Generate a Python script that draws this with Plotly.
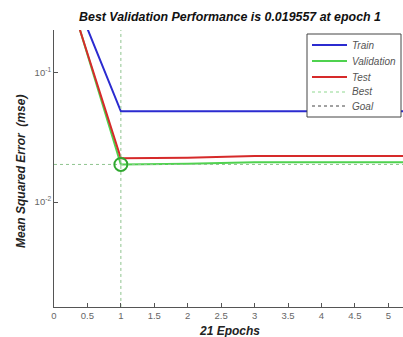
import plotly.graph_objects as go

epochs = [0, 1, 2, 3, 4, 5, 6]
train_mse = [0.95, 0.0503, 0.0503, 0.0503, 0.0503, 0.0503, 0.0503]
val_mse = [0.98, 0.019557, 0.0198, 0.0203, 0.0203, 0.0203, 0.0203]
test_mse = [0.91, 0.0218, 0.0220, 0.0227, 0.0227, 0.0227, 0.0227]
best_epoch = 1
best_perf = 0.019557
x_ticks = [0, 0.5, 1, 1.5, 2, 2.5, 3, 3.5, 4, 4.5, 5]
x_tick_labels = ["0", "0.5", "1", "1.5", "2", "2.5", "3", "3.5", "4", "4.5", "5"]
legend_names = ["Train", "Validation", "Test", "Best", "Goal"]
legend_colors = ["#2b2bd0", "#4fd24f", "#d62a2a", "#8fd88f", "#444444"]
legend_dash = ["solid", "solid", "solid", "dot", "dot"]

W, H = 403, 337
L, R, T, B = 54, 0, 30, 30
XMIN, XMAX = 0, 5.22
YMIN, YMAX = 0.00155, 0.214

fig = go.Figure()
fig.add_trace(go.Scatter(x=epochs, y=train_mse, mode="lines", name="Train",
                         line=dict(color=legend_colors[0], width=2)))
fig.add_trace(go.Scatter(x=epochs, y=val_mse, mode="lines", name="Validation",
                         line=dict(color=legend_colors[1], width=2)))
fig.add_trace(go.Scatter(x=epochs, y=test_mse, mode="lines", name="Test",
                         line=dict(color=legend_colors[2], width=2)))
fig.add_trace(go.Scatter(x=[best_epoch, best_epoch, None, XMIN, XMAX],
                         y=[YMIN, YMAX, None, best_perf, best_perf],
                         mode="lines", name="Best",
                         line=dict(color="#8fc48f", width=1, dash="dot")))
fig.add_trace(go.Scatter(x=[best_epoch], y=[best_perf], mode="markers",
                         name="Best point",
                         marker=dict(symbol="circle-open", size=13,
                                     color="#2fa82f", line=dict(width=2))))

pw = W - L - R
ph = H - T - B
def px(xp):
    return (xp - L) / pw
def py(yp):
    return 1 - (yp - T) / ph

shapes = [dict(type="rect", xref="paper", yref="paper",
               x0=px(307), x1=px(401), y0=py(117), y1=py(34),
               line=dict(color="#444", width=1), fillcolor="white", layer="above")]
annotations = []
legend_y = [45, 61, 77, 92, 106]
for nm, col, ds, yy in zip(legend_names, legend_colors, legend_dash, legend_y):
    shapes.append(dict(type="line", xref="paper", yref="paper",
                       x0=px(312), x1=px(347), y0=py(yy), y1=py(yy),
                       line=dict(color=col, width=2 if ds == "solid" else 1, dash=ds),
                       layer="above"))
    annotations.append(dict(x=px(350), y=py(yy), xref="paper", yref="paper",
                            text="<i>" + nm + "</i>", showarrow=False,
                            xanchor="left", yanchor="middle",
                            font=dict(size=10, color="#555")))

annotations.append(dict(x=px(229), y=py(331), xref="paper", yref="paper",
                        text="<b><i>21 Epochs</i></b>", showarrow=False,
                        xanchor="center", yanchor="middle",
                        font=dict(size=12, color="#222")))
annotations.append(dict(x=px(21), y=py(172), xref="paper", yref="paper",
                        text="<b><i>Mean Squared Error  (mse)</i></b>", showarrow=False,
                        textangle=-90, xanchor="center", yanchor="middle",
                        font=dict(size=12, color="#222")))

fig.update_layout(
    width=W, height=H,
    margin=dict(l=L, r=R, t=T, b=B, autoexpand=False),
    paper_bgcolor="white", plot_bgcolor="white",
    font=dict(family="Liberation Sans, Arial", size=9, color="#222"),
    showlegend=False,
    title=dict(text="<b><i>Best Validation Performance is 0.019557 at epoch 1</i></b>",
               x=230 / W, xanchor="center", y=1 - 17 / H, yanchor="middle",
               font=dict(size=12.4, color="#111")),
    xaxis=dict(range=[XMIN, XMAX], tickvals=x_ticks, ticktext=x_tick_labels,
               ticks="inside", ticklen=4, tickcolor="#555", automargin=False,
               showline=True, linecolor="#555", showgrid=False, zeroline=False,
               tickfont=dict(size=9.5, color="#666")),
    yaxis=dict(type="log", range=[-2.81, -0.67], automargin=False,
               tickvals=[0.01, 0.1], ticktext=["10<sup>-2</sup>", "10<sup>-1</sup>"],
               ticks="inside", ticklen=4, tickcolor="#555",
               showline=True, linecolor="#555", showgrid=False, zeroline=False,
               tickfont=dict(size=9.5, color="#666")),
    shapes=shapes,
    annotations=annotations,
)

fig.write_html("out.html", config={"displayModeBar": False},
               post_script="document.body.style.margin='0';document.body.style.padding='0';")
